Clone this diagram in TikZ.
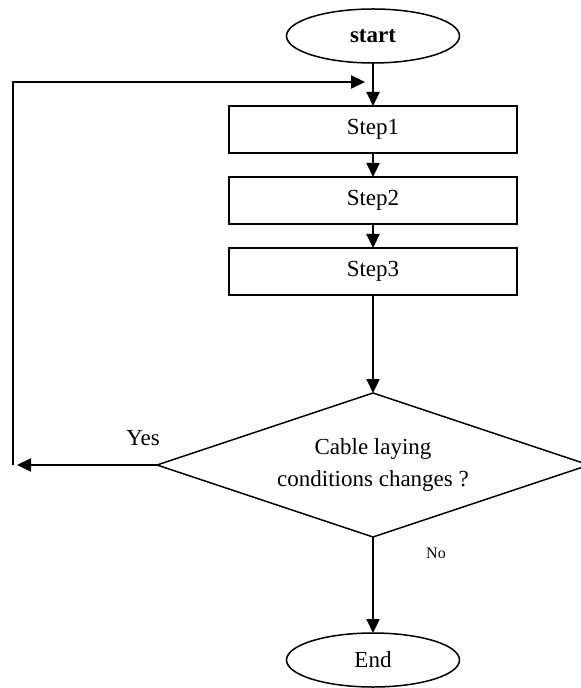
\documentclass[tikz,border=0pt]{standalone}
\usepackage{fontspec}
\setmainfont{Liberation Serif}
\usetikzlibrary{arrows.meta, positioning, shapes.geometric}
\tikzset {
  box/.style = {draw, line width=0.75pt, rectangle, minimum width=144pt, minimum height=23.5pt, inner sep=0pt, font=\fontsize{11.5}{14}\selectfont},
  terminal/.style = {draw, line width=0.75pt, ellipse, minimum width=86.5pt, minimum height=27pt, inner sep=0pt, font=\fontsize{11.5}{14}\selectfont},
  decision/.style = {draw, line width=0.75pt, diamond, aspect=3, minimum width=216pt, minimum height=72pt, inner sep=0pt, align=center, font=\fontsize{11.5}{16}\selectfont},
  line/.style = {-{Triangle[length=7pt, width=6.5pt]}, line width=1.1pt, color=black},
  label/.style = {inner sep=0pt, font=\fontsize{11.5}{14}\selectfont}
}

\begin{document}
\begin{tikzpicture}[outer sep=0pt]
    \useasboundingbox (0,0) rectangle (290pt,-344pt);

    \node[terminal, font=\bfseries\fontsize{11.5}{14}\selectfont] (start) at (186.5pt,-18pt) {start};
    \node[box, below=21.5pt of start] (step1) {Step1};
    \node[box, below=12pt of step1] (step2) {Step2};
    \node[box, below=12pt of step2] (step3) {Step3};
    \node[decision, below=49pt of step3] (cond) {Cable laying\\conditions changes ?};
    \node[terminal, below=48pt of cond] (end) {End};

    \coordinate (back) at (6.5pt,-232.5pt);
    \coordinate (top) at (6.5pt,-41pt);
    \coordinate (join) at (182.5pt,-41pt);

    \node[label] (yes) at (71.5pt,-219pt) {Yes};
    \node[label, font=\fontsize{8}{9}\selectfont] (no) at (218pt,-276.5pt) {No};

    \draw[line] (start) -- (step1);
    \draw[line] (step1) -- (step2);
    \draw[line] (step2) -- (step3);
    \draw[line] (step3) -- (cond);
    \draw[line] (cond) -- (end);
    \draw[line] (cond.west) -- ([xshift=2pt]back);
    \draw[line] (back) -- (top) -- (join);

\end{tikzpicture}
\end{document}
